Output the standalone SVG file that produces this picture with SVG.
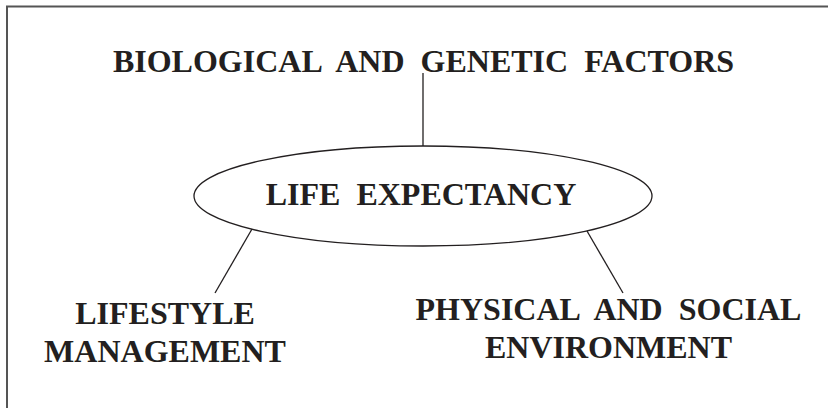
<svg xmlns="http://www.w3.org/2000/svg" width="828" height="408" viewBox="0 0 828 408">
<style>
.t{font-family:"Liberation Serif","Times New Roman",serif;font-weight:bold;font-size:32px;fill:#231f20;text-anchor:middle;word-spacing:8px}
.c{stroke:#231f20;stroke-width:1.3;fill:none}
</style>
<rect x="0" y="0" width="828" height="408" fill="#ffffff"/>
<rect x="7" y="6.5" width="840" height="420" fill="none" stroke="#555555" stroke-width="2"/>
<g id="connectors">
<line class="c" x1="423" y1="73" x2="423" y2="146"/>
<line class="c" x1="252" y1="229" x2="215" y2="293"/>
<line class="c" x1="587" y1="231" x2="623" y2="293"/>
</g>
<g id="life-expectancy">
<ellipse class="c" cx="423" cy="196" rx="229" ry="50"/>
<text class="t" x="421" y="205">LIFE EXPECTANCY</text>
</g>
<g id="biological">
<text class="t" x="423.5" y="72">BIOLOGICAL AND GENETIC FACTORS</text>
</g>
<g id="lifestyle">
<text class="t" x="165" y="324">LIFESTYLE</text>
<text class="t" x="165" y="362">MANAGEMENT</text>
</g>
<g id="physical">
<text class="t" x="608.5" y="320">PHYSICAL AND SOCIAL</text>
<text class="t" x="608.5" y="358">ENVIRONMENT</text>
</g>
</svg>
